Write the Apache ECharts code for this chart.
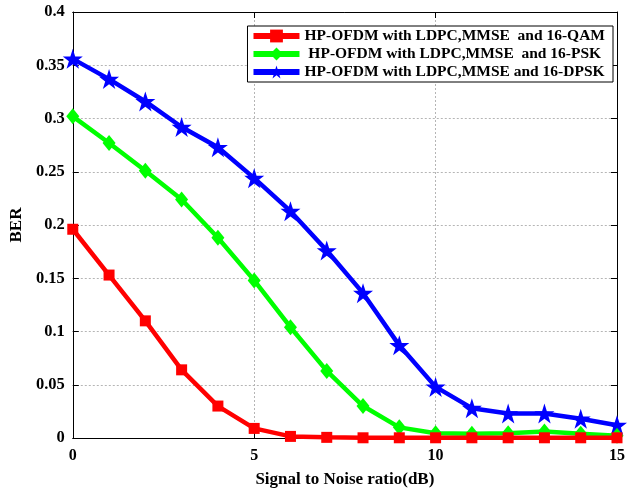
<!DOCTYPE html>
<html>
<head>
<meta charset="utf-8">
<script src="https://cdn.jsdelivr.net/npm/echarts@6/dist/echarts.min.js"></script>
<style>
  html, body { margin: 0; padding: 0; background: #fff; }
  #chart { width: 635px; height: 493px; }
</style>
</head>
<body>
<div id="chart"></div>
<script>
// SNR points (dB)
const snr = [0, 1, 2, 3, 4, 5, 6, 7, 8, 9, 10, 11, 12, 13, 14, 15];

// Bit error rate per modulation scheme
const berQAM  = [0.196, 0.153, 0.110, 0.064, 0.030, 0.009, 0.0015, 0.0006, 0.0002, 0.0002, 0.0002, 0.0002, 0.0002, 0.0002, 0.0002, 0.0002];
const berPSK  = [0.302, 0.277, 0.251, 0.224, 0.188, 0.148, 0.104, 0.063, 0.030, 0.010, 0.0045, 0.004, 0.0045, 0.006, 0.004, 0.002];
const berDPSK = [0.356, 0.337, 0.316, 0.292, 0.273, 0.244, 0.213, 0.176, 0.136, 0.087, 0.048, 0.028, 0.023, 0.023, 0.018, 0.012];

const seriesNames = [
  'HP-OFDM with LDPC,MMSE  and 16-QAM',
  ' HP-OFDM with LDPC,MMSE  and 16-PSK',
  'HP-OFDM with LDPC,MMSE and 16-DPSK'
];

const FONT = '"Liberation Serif", "Times New Roman", serif';
const STAR = 'path://M50,0 L61.8,35.5 L99,35.5 L69,57.5 L80.5,93 L50,71 L19.5,93 L31,57.5 L1,35.5 L38.2,35.5 Z';

const pairs = ys => snr.map((x, i) => [x, ys[i]]);

const chart = echarts.init(document.getElementById('chart'), null, { renderer: 'canvas' });

const tickStyle = { inside: true, length: 6, lineStyle: { color: '#000', width: 1 } };
const lineAxis = { show: true, onZero: false, lineStyle: { color: '#000', width: 1 } };
const gridLine = { show: true, lineStyle: { color: '#b5b5b5', type: [2, 2], width: 1 } };

chart.setOption({
  animation: false,
  backgroundColor: '#fff',
  grid: { left: 71, right: 18, top: 12, bottom: 55, containLabel: false },
  legend: {
    right: 22, top: 26,
    orient: 'vertical',
    backgroundColor: '#fff',
    borderColor: '#000', borderWidth: 1, borderRadius: 0,
    padding: [2, 8, 2, 3],
    itemGap: 2,
    itemWidth: 46, itemHeight: 16,
    lineStyle: { width: 6 },
    textStyle: { fontFamily: FONT, fontWeight: 'bold', fontSize: 15.5, color: '#000' },
    data: seriesNames
  },
  xAxis: [
    {
      type: 'value', min: 0, max: 15, interval: 5,
      name: 'Signal to Noise ratio(dB)', nameLocation: 'middle', nameGap: 33,
      nameTextStyle: { fontFamily: FONT, fontWeight: 'bold', fontSize: 17, color: '#000' },
      axisLine: lineAxis, axisTick: tickStyle,
      axisLabel: { fontFamily: FONT, fontWeight: 'bold', fontSize: 16, color: '#000', margin: 10 },
      splitLine: gridLine
    },
    {
      type: 'value', position: 'top', min: 0, max: 15, interval: 5,
      axisLine: lineAxis, axisTick: tickStyle, axisLabel: { show: false }, splitLine: { show: false }
    }
  ],
  yAxis: [
    {
      type: 'value', min: 0, max: 0.4, interval: 0.05,
      name: 'BER', nameLocation: 'middle', nameGap: 46,
      nameTextStyle: { fontFamily: FONT, fontWeight: 'bold', fontSize: 17, color: '#000' },
      axisLine: lineAxis, axisTick: tickStyle,
      axisLabel: { fontFamily: FONT, fontWeight: 'bold', fontSize: 16.5, color: '#000', margin: 8 },
      splitLine: gridLine
    },
    {
      type: 'value', position: 'right', min: 0, max: 0.4, interval: 0.05,
      axisLine: lineAxis, axisTick: tickStyle, axisLabel: { show: false }, splitLine: { show: false }
    }
  ],
  series: [
    {
      name: seriesNames[0], type: 'line', data: pairs(berQAM),
      color: '#ff0000', lineStyle: { width: 4.5 },
      symbol: 'rect', symbolSize: 11, showAllSymbol: true, z: 4
    },
    {
      name: seriesNames[1], type: 'line', data: pairs(berPSK),
      color: '#00ff00', lineStyle: { width: 4.5 },
      symbol: 'diamond', symbolSize: [13, 16], showAllSymbol: true, z: 3
    },
    {
      name: seriesNames[2], type: 'line', data: pairs(berDPSK),
      color: '#0000ff', lineStyle: { width: 4.5 },
      symbol: STAR, symbolSize: 20, showAllSymbol: true, z: 2
    }
  ]
});
</script>
</body>
</html>
